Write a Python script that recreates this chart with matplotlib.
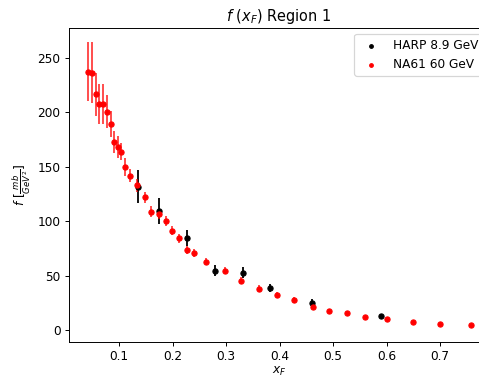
import matplotlib
matplotlib.use("Agg")
import matplotlib.pyplot as plt

# NA61 60 GeV (red)
na61_x = [0.0426, 0.050, 0.0564, 0.063, 0.0707, 0.077, 0.0845, 0.091, 0.098, 0.104,
          0.112, 0.121, 0.134, 0.148, 0.160, 0.174, 0.187, 0.1997, 0.2127, 0.2277,
          0.2396, 0.263, 0.2975, 0.3286, 0.3617, 0.3953, 0.4277, 0.462, 0.493,
          0.5267, 0.560, 0.6015, 0.650, 0.6995, 0.7585]
na61_y = [237.4, 236.5, 216.6, 207.7, 207.7, 200.7, 189.0, 172.5, 168.5, 164.0,
          150.0, 141.8, 133.0, 122.0, 108.7, 107.0, 100.5, 91.3, 84.3, 73.5,
          71.0, 62.8, 54.5, 45.3, 38.0, 32.2, 27.6, 21.4, 17.7,
          15.6, 11.7, 9.8, 7.0, 5.2, 4.3]
na61_err = [27, 28, 20, 18, 18, 15, 12, 10, 10, 8,
            8, 6, 6, 5, 5, 4.5, 4.5, 4, 4, 3.5,
            3.5, 3, 3, 3, 3, 2.5, 2.5, 2, 2,
            2, 1.5, 1.5, 1.5, 1.5, 1.5]

# HARP 8.9 GeV (black)
harp_x = [0.136, 0.1753, 0.2277, 0.280, 0.3318, 0.383, 0.460, 0.590]
harp_y = [131.7, 109.4, 84.3, 54.5, 52.7, 38.6, 25.1, 13.1]
harp_err = [15, 12, 7.5, 5, 5, 4, 3, 2]

DPI = 87
fig = plt.figure(figsize=(479 / DPI, 375 / DPI), dpi=DPI)
ax = fig.add_axes([69/479, 33/375, 420/479, 314/375])

ax.errorbar(harp_x, harp_y, yerr=harp_err, fmt='none', ecolor='black', elinewidth=1.5)
ax.errorbar(na61_x, na61_y, yerr=na61_err, fmt='none', ecolor='red', elinewidth=1.5, alpha=0.75)
ax.scatter(harp_x, harp_y, s=18, color='black', label='HARP 8.9 GeV', zorder=3)
ax.scatter(na61_x, na61_y, s=18, color='red', label='NA61 60 GeV', zorder=3)

ax.set_xlim(0.0065, 0.7916)
ax.set_ylim(-11, 277.6)
ax.set_xticks([0.1, 0.2, 0.3, 0.4, 0.5, 0.6, 0.7])
ax.set_yticks([0, 50, 100, 150, 200, 250])

ax.set_title(r'$f\ (x_F)$ Region 1')
ax.set_xlabel(r'$x_F$', labelpad=1)
ax.set_ylabel(r'$f\ [\frac{mb}{GeV^2}]$')
ax.legend(loc='upper right', markerscale=0.7)

fig.savefig('out.png', dpi=DPI)
